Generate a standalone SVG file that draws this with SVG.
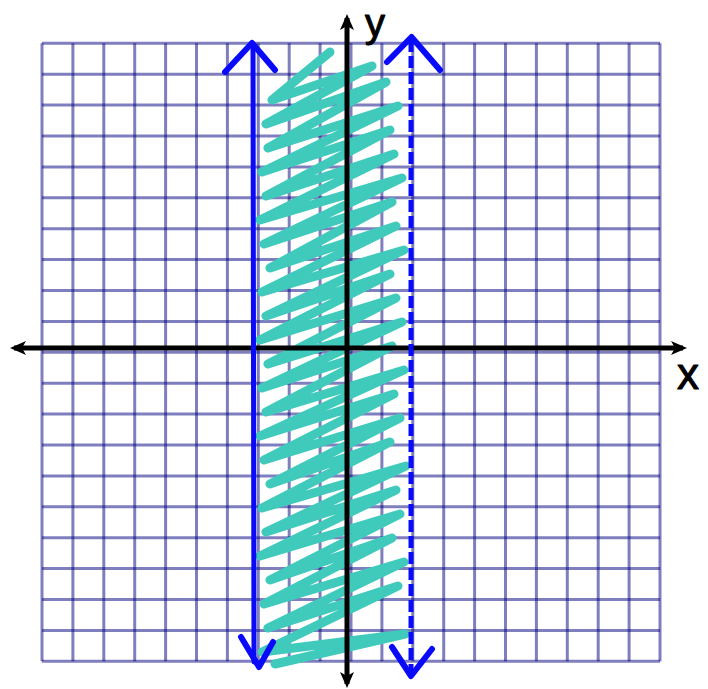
<svg xmlns="http://www.w3.org/2000/svg" width="708" height="689" viewBox="0 0 708 689">
<style>
.grid line{stroke:#000080;stroke-opacity:0.5;stroke-width:3}
.axis{stroke:#000;stroke-width:5;fill:none}
.bl{stroke:#0a0afa;stroke-width:5;fill:none;stroke-linecap:round;stroke-linejoin:round}
.dash{stroke:#0a0afa;stroke-width:5;fill:none;stroke-linecap:butt;stroke-dasharray:12 4}
.bh{stroke:#0a0afa;stroke-width:6;fill:none;stroke-linecap:round;stroke-linejoin:round}
.shade{stroke:#3fcabb;stroke-width:9;fill:none;stroke-linecap:round;stroke-linejoin:round}
.lbl{font-family:"Liberation Sans",Arial,sans-serif;fill:#000;stroke:#000;stroke-width:1;stroke-linejoin:round}
</style>
<defs>
<marker id="ah" viewBox="0 0 16 14" markerWidth="16" markerHeight="14" refX="12" refY="7" markerUnits="userSpaceOnUse" orient="auto-start-reverse">
<path d="M0,0 L16,7 L0,14 L4,7 z" fill="#000"/>
</marker>
</defs>
<rect width="708" height="689" fill="#fff"/>
<g id="grid" class="grid">
<line x1="42" y1="43.3" x2="42" y2="661.3"/>
<line x1="72.9" y1="43.3" x2="72.9" y2="661.3"/>
<line x1="103.8" y1="43.3" x2="103.8" y2="661.3"/>
<line x1="134.7" y1="43.3" x2="134.7" y2="661.3"/>
<line x1="165.6" y1="43.3" x2="165.6" y2="661.3"/>
<line x1="196.5" y1="43.3" x2="196.5" y2="661.3"/>
<line x1="227.4" y1="43.3" x2="227.4" y2="661.3"/>
<line x1="258.3" y1="43.3" x2="258.3" y2="661.3"/>
<line x1="289.2" y1="43.3" x2="289.2" y2="661.3"/>
<line x1="320.1" y1="43.3" x2="320.1" y2="661.3"/>
<line x1="351" y1="43.3" x2="351" y2="661.3"/>
<line x1="381.9" y1="43.3" x2="381.9" y2="661.3"/>
<line x1="412.8" y1="43.3" x2="412.8" y2="661.3"/>
<line x1="443.7" y1="43.3" x2="443.7" y2="661.3"/>
<line x1="474.6" y1="43.3" x2="474.6" y2="661.3"/>
<line x1="505.5" y1="43.3" x2="505.5" y2="661.3"/>
<line x1="536.4" y1="43.3" x2="536.4" y2="661.3"/>
<line x1="567.3" y1="43.3" x2="567.3" y2="661.3"/>
<line x1="598.2" y1="43.3" x2="598.2" y2="661.3"/>
<line x1="629.1" y1="43.3" x2="629.1" y2="661.3"/>
<line x1="660" y1="43.3" x2="660" y2="661.3"/>
<line x1="42" y1="43.3" x2="660" y2="43.3"/>
<line x1="42" y1="74.2" x2="660" y2="74.2"/>
<line x1="42" y1="105.1" x2="660" y2="105.1"/>
<line x1="42" y1="136" x2="660" y2="136"/>
<line x1="42" y1="166.9" x2="660" y2="166.9"/>
<line x1="42" y1="197.8" x2="660" y2="197.8"/>
<line x1="42" y1="228.7" x2="660" y2="228.7"/>
<line x1="42" y1="259.6" x2="660" y2="259.6"/>
<line x1="42" y1="290.5" x2="660" y2="290.5"/>
<line x1="42" y1="321.4" x2="660" y2="321.4"/>
<line x1="42" y1="352.3" x2="660" y2="352.3"/>
<line x1="42" y1="383.2" x2="660" y2="383.2"/>
<line x1="42" y1="414.1" x2="660" y2="414.1"/>
<line x1="42" y1="445" x2="660" y2="445"/>
<line x1="42" y1="475.9" x2="660" y2="475.9"/>
<line x1="42" y1="506.8" x2="660" y2="506.8"/>
<line x1="42" y1="537.7" x2="660" y2="537.7"/>
<line x1="42" y1="568.6" x2="660" y2="568.6"/>
<line x1="42" y1="599.5" x2="660" y2="599.5"/>
<line x1="42" y1="630.4" x2="660" y2="630.4"/>
<line x1="42" y1="661.3" x2="660" y2="661.3"/>
</g>
<g id="shading">
<path class="shade" d="M275,664 L405,634 L262,652 L398,586 L268,628 L404,562 L264,604 L392,538 L270,580 L400,514 L260,556 L396,490 L266,532 L406,466 L262,508 L390,442 L270,484 L400,418 L264,460 L394,394 L260,436 L404,370 L266,412 L392,346 L262,388 L402,322 L268,364 L396,298 L260,340 L390,274 L266,316 L404,250 L262,292 L396,226 L270,268 L392,202 L264,244 L402,178 L260,220 L394,154 L266,196 L390,130 L262,172 L398,106 L268,148 L386,82 L266,124 L372,66 L272,100 L330,52"/>
</g>
<g id="connectors">
<line id="x-axis" class="axis" x1="14" y1="348" x2="683" y2="348" marker-start="url(#ah)" marker-end="url(#ah)"/>
<line id="y-axis" class="axis" x1="347" y1="684" x2="347" y2="18" marker-start="url(#ah)" marker-end="url(#ah)"/>
<g id="solid-boundary">
<line class="bl" x1="253" y1="44" x2="254" y2="662"/>
<polyline class="bh" points="225,72 252,43 275,70"/>
<polyline class="bh" points="241,637 259,667 273,642"/>
</g>
<g id="dashed-boundary">
<line class="dash" x1="411" y1="40" x2="411" y2="672"/>
<polyline class="bh" points="387,62 411.5,37 440,70"/>
<polyline class="bh" points="392,647 411,676 432,649"/>
</g>
</g>
<g id="labels">
<text id="y-label" class="lbl" x="365" y="37" font-size="40">y</text>
<text id="x-label" class="lbl" x="677" y="389" font-size="44">x</text>
</g>
</svg>
